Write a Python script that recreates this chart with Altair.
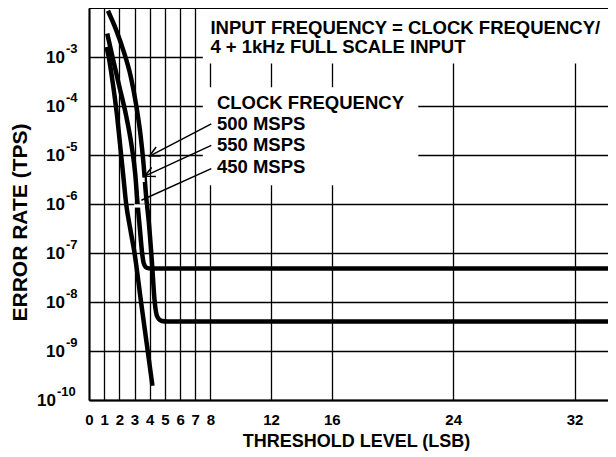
import math
import altair as alt
import pandas as pd

FONT = "Liberation Sans"

# ---------------- data ----------------
x_ticks = [0, 1, 2, 3, 4, 5, 6, 7, 8, 12, 16, 24, 32]
y_grid = [1e-3, 1e-4, 1e-5, 1e-6, 1e-7, 1e-8, 1e-9, 1e-10]
y_exp_labels = ["-3", "-4", "-5", "-6", "-7", "-8", "-9", "-10"]

# left curve (falls straight to ~2e-10)
xa = [1.15, 1.3, 1.6, 1.85, 2.05, 2.25, 2.45, 2.71, 3.0, 3.43, 3.87, 4.18]
ya = [1.6e-3, 1.0e-3, 2.5e-4, 6.3e-5, 1.6e-5, 4.0e-6, 1.0e-6, 3.2e-7, 1.0e-7, 1.0e-8, 1.0e-9, 1.95e-10]
# middle curve (floor ~4.8e-8)
xb = [1.2, 1.55, 2.0, 2.45, 2.8, 3.05, 3.2, 3.35, 3.5, 3.6, 3.8, 4.1, 34.2]
yb = [3.0e-3, 1.0e-3, 2.5e-4, 6.3e-5, 1.6e-5, 4.0e-6, 1.0e-6, 3.2e-7, 1.0e-7, 6.3e-8, 5.0e-8, 4.8e-8, 4.8e-8]
# right curve (starts highest, floor ~4e-9)
xc = [1.25, 1.8, 2.3, 2.75, 3.12, 3.4, 3.6, 3.75, 3.95, 4.15, 4.33, 4.5, 4.8, 5.2, 34.2]
yc = [8.8e-3, 3.5e-3, 1.26e-3, 4.0e-4, 1.0e-4, 2.5e-5, 6.3e-6, 1.6e-6, 4.0e-7, 6.3e-8, 1.0e-8, 5.0e-9, 4.1e-9, 4.0e-9, 4.0e-9]

note_text = ["INPUT FREQUENCY = CLOCK FREQUENCY/", "4 + 1kHz FULL SCALE INPUT",
             "CLOCK FREQUENCY", "500 MSPS", "550 MSPS", "450 MSPS"]
note_x = [8.0, 8.0, 8.43, 8.43, 8.43, 8.43]
note_y = [2.95e-3, 1.19e-3, 8.77e-5, 3.17e-5, 1.18e-5, 4.28e-6]

# arrows: tail (near label) -> tip (near curve)
arr_x = [8.06, 8.06, 8.06]
arr_y = [4.33e-5, 1.57e-5, 5.26e-6]
arr_x2 = [3.99, 3.67, 3.45]
arr_y2 = [9.5e-6, 3.7e-6, 1.19e-6]
arr_head = [True, True, False]

# white boxes behind the annotation text (gridlines are broken there)
box_x = [7.5, 7.5]
box_x2 = [34.2, 21.7]
box_y = [1e-2, 2.4e-4]
box_y2 = [7.4e-4, 2.4e-6]
# small white patches where the arrows reach the curves
patch_x = [3.29, 2.96]
patch_x2 = [3.67, 3.67]
patch_y = [3.45e-6, 9.86e-7]
patch_y2 = [2.81e-6, 8.45e-7]

# ---------------- geometry ----------------
W, H = 519, 392
XMAX = 34.2
PX_X = W / XMAX
PX_DEC = H / 8.0

xscale = alt.Scale(domain=[0, XMAX], nice=False, zero=False)
yscale = alt.Scale(type="log", domain=[1e-10, 1e-2], nice=False)

xaxis = alt.Axis(values=x_ticks, grid=True, gridColor="black", gridWidth=1.3, gridOpacity=1,
                 domainColor="black", domainWidth=2, ticks=False, tickSize=0,
                 labelFont=FONT, labelFontSize=15, labelFontWeight="bold", labelColor="black",
                 labelPadding=24, labelBaseline="alphabetic", labelOverlap=False, labelFlush=False,
                 title="THRESHOLD LEVEL (LSB)", titleFont=FONT, titleFontSize=18,
                 titleFontWeight="bold", titleColor="black", titleX=267, titleY=46,
                 titleBaseline="alphabetic", titleAlign="center")
yaxis = alt.Axis(values=y_grid, grid=True, gridColor="black", gridWidth=1.3, gridOpacity=1,
                 domainColor="black", domainWidth=2, ticks=False, tickSize=0, labels=False,
                 title="ERROR RATE (TPS)", titleFont=FONT, titleFontSize=21,
                 titleFontWeight="bold", titleColor="black", titleX=-69, titleY=214,
                 titleAngle=270, titleBaseline="middle", titleAlign="center")

rows = []
for name, xs, ys in (("a", xa, ya), ("b", xb, yb), ("c", xc, yc)):
    for i, (x, y) in enumerate(zip(xs, ys)):
        rows.append({"series": name, "i": i, "x": x, "y": y})
curves = pd.DataFrame(rows)

base_axes = alt.Chart(curves).mark_line(opacity=0).encode(
    x=alt.X("x:Q", scale=xscale, axis=xaxis),
    y=alt.Y("y:Q", scale=yscale, axis=yaxis),
    detail="series:N",
)

boxes = alt.Chart(pd.DataFrame({"x": box_x, "x2": box_x2, "y": box_y, "y2": box_y2})).mark_rect(
    color="white").encode(
    x=alt.X("x:Q", scale=xscale), x2="x2:Q", y=alt.Y("y:Q", scale=yscale), y2="y2:Q")

lines = alt.Chart(curves).mark_line(color="black", strokeWidth=4.5, interpolate="monotone",
                                    clip=True, strokeCap="butt").encode(
    x=alt.X("x:Q", scale=xscale), y=alt.Y("y:Q", scale=yscale), detail="series:N", order="i:Q")

patches = alt.Chart(pd.DataFrame({"x": patch_x, "x2": patch_x2, "y": patch_y, "y2": patch_y2})).mark_rect(
    color="white").encode(
    x=alt.X("x:Q", scale=xscale), x2="x2:Q", y=alt.Y("y:Q", scale=yscale), y2="y2:Q")

top_border = alt.Chart(pd.DataFrame({"y": [1e-2]})).mark_rule(color="black", strokeWidth=2).encode(
    y=alt.Y("y:Q", scale=yscale))

arr_df = pd.DataFrame({"x": arr_x, "y": arr_y, "x2": arr_x2, "y2": arr_y2, "head": arr_head})
arr_df["ang"] = [
    (math.degrees(math.atan2(-(math.log10(b) - math.log10(a)) * PX_DEC, (x2 - x1) * PX_X)) % 360)
    for x1, a, x2, b in zip(arr_x, arr_y, arr_x2, arr_y2)
]
arrows = alt.Chart(arr_df).mark_rule(color="black", strokeWidth=1.5).encode(
    x=alt.X("x:Q", scale=xscale), y=alt.Y("y:Q", scale=yscale), x2="x2:Q", y2="y2:Q")
heads = alt.Chart(arr_df[arr_df["head"]]).mark_point(
    shape="M -1 -0.5 L 0 0 L -1 0.5", filled=False, color="black", strokeWidth=1.5,
    size=400, opacity=1).encode(
    x=alt.X("x2:Q", scale=xscale), y=alt.Y("y2:Q", scale=yscale),
    angle=alt.Angle("ang:Q", scale=None))

notes = alt.Chart(pd.DataFrame({"t": note_text, "x": note_x, "y": note_y})).mark_text(
    align="left", baseline="alphabetic", font=FONT, fontSize=18.5, fontWeight="bold",
    color="black").encode(
    x=alt.X("x:Q", scale=xscale), y=alt.Y("y:Q", scale=yscale), text="t:N")

lab_df = pd.DataFrame({"y": y_grid, "e": y_exp_labels, "ten": ["10"] * len(y_grid)})
lab_df["long"] = [len(e) > 2 for e in y_exp_labels]
lab_short = lab_df[~lab_df["long"]]
lab_long = lab_df[lab_df["long"]]


def ylabels(df, off):
    ten = alt.Chart(df).mark_text(align="right", baseline="alphabetic", font=FONT, fontSize=17,
                                  fontWeight="bold", color="black", dx=off, dy=6).encode(
        x=alt.datum(0, scale=xscale), y=alt.Y("y:Q", scale=yscale), text="ten:N")
    ex = alt.Chart(df).mark_text(align="left", baseline="alphabetic", font=FONT, fontSize=13,
                                 fontWeight="bold", color="black", dx=off + 1, dy=-4).encode(
        x=alt.datum(0, scale=xscale), y=alt.Y("y:Q", scale=yscale), text="e:N")
    return ten + ex


chart = alt.layer(
    base_axes, boxes, lines, patches, top_border, arrows, heads, notes,
    ylabels(lab_short, -24), ylabels(lab_long, -33),
).properties(
    width=W, height=H, autosize="none",
    padding={"left": 81, "top": 0, "right": 0, "bottom": 51},
).configure_view(stroke=None).configure(background="white")

chart.save("out.html", embed_options={"renderer": "svg", "actions": False})
